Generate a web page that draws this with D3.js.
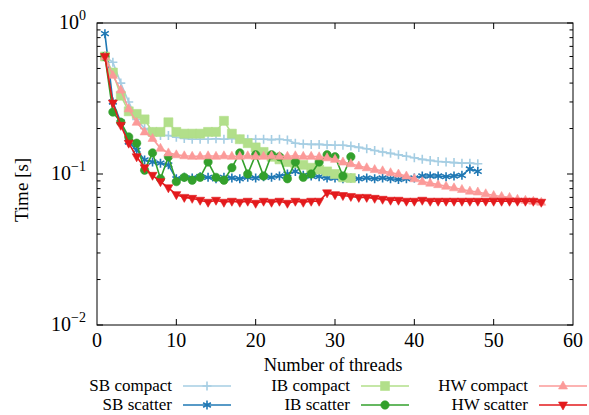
<!DOCTYPE html>
<html>
<head>
<meta charset="utf-8">
<script src="https://cdn.jsdelivr.net/npm/d3@7"></script>
<style>
  body { margin: 0; background: #fff; }
  svg text { font-family: "Liberation Serif", "Times New Roman", serif; fill: #000; }
</style>
</head>
<body>
<svg id="chart" width="589" height="415"></svg>
<script>
// measured times (s) per thread count, starting at 1 thread
const sbCompact = [0.6, 0.55, 0.4, 0.3, 0.23, 0.2, 0.19, 0.18, 0.18, 0.175,
  0.172, 0.17, 0.17, 0.17, 0.171, 0.17, 0.172, 0.17, 0.17, 0.17,
  0.17, 0.169, 0.17, 0.168, 0.16, 0.158, 0.157, 0.157, 0.156, 0.155,
  0.155, 0.153, 0.15, 0.147, 0.143, 0.14, 0.137, 0.134, 0.131, 0.128,
  0.125, 0.123, 0.121, 0.12, 0.119, 0.118, 0.118, 0.117];
const sbScatter = [0.85, 0.3, 0.22, 0.163, 0.144, 0.124, 0.12, 0.118, 0.115, 0.093,
  0.095, 0.094, 0.096, 0.095, 0.093, 0.095, 0.094, 0.093, 0.095, 0.094,
  0.096, 0.095, 0.097, 0.1, 0.104, 0.098, 0.097, 0.096, 0.094, 0.094,
  0.093, 0.094, 0.093, 0.094, 0.093, 0.094, 0.093, 0.092, 0.093, 0.094,
  0.097, 0.097, 0.097, 0.096, 0.097, 0.098, 0.108, 0.104];
const ibCompact = [0.6, 0.47, 0.33, 0.26, 0.25, 0.23, 0.19, 0.19, 0.22, 0.19,
  0.185, 0.185, 0.185, 0.19, 0.19, 0.225, 0.185, 0.17, 0.16, 0.15,
  0.14, 0.13, 0.125, 0.12, 0.118, 0.115, 0.11, 0.107, 0.104, 0.1,
  0.095, 0.094];
const ibScatter = [0.6, 0.257, 0.22, 0.176, 0.16, 0.106, 0.138, 0.093, 0.13, 0.089,
  0.095, 0.091, 0.095, 0.12, 0.095, 0.091, 0.11, 0.138, 0.1, 0.134,
  0.097, 0.134, 0.13, 0.093, 0.12, 0.095, 0.1, 0.12, 0.134, 0.13,
  0.097, 0.13];
const hwCompact = [0.6, 0.45, 0.36, 0.27, 0.22, 0.19, 0.172, 0.148, 0.138, 0.134,
  0.132, 0.131, 0.131, 0.132, 0.131, 0.132, 0.131, 0.131, 0.132, 0.131,
  0.131, 0.132, 0.131, 0.131, 0.132, 0.131, 0.131, 0.13, 0.128, 0.125,
  0.12, 0.117, 0.113, 0.11, 0.107, 0.105, 0.102, 0.1, 0.097, 0.093,
  0.089, 0.087, 0.085, 0.083, 0.081, 0.079, 0.077, 0.076, 0.074, 0.072,
  0.071, 0.07, 0.068, 0.067, 0.066, 0.065];
const hwScatter = [0.6, 0.295, 0.21, 0.16, 0.13, 0.11, 0.098, 0.089, 0.081, 0.073,
  0.07, 0.069, 0.067, 0.065, 0.067, 0.065, 0.066, 0.065, 0.066, 0.064,
  0.066, 0.065, 0.066, 0.064, 0.066, 0.065, 0.066, 0.066, 0.075, 0.073,
  0.072, 0.071, 0.07, 0.07, 0.069, 0.068, 0.067, 0.067, 0.066, 0.066,
  0.067, 0.066, 0.066, 0.066, 0.066, 0.066, 0.066, 0.066, 0.066, 0.066,
  0.066, 0.066, 0.066, 0.066, 0.066, 0.065];

const seriesNames = ["SB compact", "SB scatter", "IB compact", "IB scatter", "HW compact", "HW scatter"];
const seriesValues = [sbCompact, sbScatter, ibCompact, ibScatter, hwCompact, hwScatter];
const seriesColors = ["#a6cee3", "#1f78b4", "#b2df8a", "#33a02c", "#fb9a99", "#e31a1c"];
const seriesMarks = ["plus", "asterisk", "square", "circle", "triUp", "triDown"];

const xTicks = [0, 10, 20, 30, 40, 50, 60];
const yTicks = [1e-2, 1e-1, 1];
const yTickExp = ["−2", "−1", "0"];

const margin = {top: 23, right: 16, bottom: 90, left: 97};
const width = 589 - margin.left - margin.right;
const height = 415 - margin.top - margin.bottom;

const svg = d3.select("#chart");

let x = d3.scaleLinear().domain([0, 60]).range([margin.left, margin.left + width]);
let y = d3.scaleLog().domain([1e-2, 1]).range([margin.top + height, margin.top]);

//marker shapes, drawn around 0,0
function markPath(kind) {
    const p = d3.path();
    if (kind == "plus") {
        p.moveTo(-4.5, 0); p.lineTo(4.5, 0);
        p.moveTo(0, -4.5); p.lineTo(0, 4.5);
    } else if (kind == "asterisk") {
        [90, 30, 150].forEach(a => {
            const r = a * Math.PI / 180;
            p.moveTo(-4.5 * Math.cos(r), -4.5 * Math.sin(r));
            p.lineTo(4.5 * Math.cos(r), 4.5 * Math.sin(r));
        });
    } else if (kind == "square") {
        p.rect(-4.5, -4.5, 9, 9);
    } else if (kind == "circle") {
        p.arc(0, 0, 4.2, 0, 2 * Math.PI);
    } else if (kind == "triUp") {
        p.moveTo(0, -5); p.lineTo(4.5, 3); p.lineTo(-4.5, 3); p.closePath();
    } else if (kind == "triDown") {
        p.moveTo(0, 5); p.lineTo(4.5, -3); p.lineTo(-4.5, -3); p.closePath();
    }
    return p.toString();
}

function drawMark(g, kind, color) {
    const filled = !(kind == "plus" || kind == "asterisk");
    g.append("path")
        .attr("d", markPath(kind))
        .attr("fill", filled ? color : "none")
        .attr("stroke", color)
        .attr("stroke-width", filled ? 0.6 : 1.6);
}

const plot = svg.append("g");
plot.append("clipPath").attr("id", "clip")
    .append("rect").attr("x", margin.left).attr("y", margin.top).attr("width", width).attr("height", height);

const line = d3.line()
    .x((d, i) => x(i + 1))
    .y(d => y(d));

seriesValues.forEach((vals, k) => {
    const g = plot.append("g").attr("clip-path", "url(#clip)");
    g.append("path")
        .attr("d", line(vals))
        .attr("fill", "none")
        .attr("stroke", seriesColors[k])
        .attr("stroke-width", 1.6);
    vals.forEach((v, i) => {
        const m = g.append("g").attr("transform", `translate(${x(i + 1)},${y(v)})`);
        drawMark(m, seriesMarks[k], seriesColors[k]);
    });
});

//axes: ticks pointing inward on all four sides
const axes = svg.append("g");
axes.append("rect")
    .attr("x", margin.left).attr("y", margin.top)
    .attr("width", width).attr("height", height)
    .attr("fill", "none").attr("stroke", "#000").attr("stroke-width", 1);

const xInner = xTicks.filter(t => t > 0 && t < 60);
xInner.forEach(t => {
    axes.append("line").attr("x1", x(t)).attr("x2", x(t))
        .attr("y1", margin.top + height).attr("y2", margin.top + height - 6)
        .attr("stroke", "#000");
    axes.append("line").attr("x1", x(t)).attr("x2", x(t))
        .attr("y1", margin.top).attr("y2", margin.top + 6)
        .attr("stroke", "#000");
});
axes.selectAll(".xlab").data(xTicks).join("text")
    .attr("class", "xlab")
    .attr("x", d => x(d))
    .attr("y", margin.top + height + 22)
    .attr("text-anchor", "middle")
    .attr("font-size", 20)
    .text(d => d);

const minor = [];
[0.01, 0.1].forEach(b => { for (let m = 2; m <= 9; m++) minor.push(b * m); });
minor.forEach(t => {
    [[margin.left, 3.5], [margin.left + width, -3.5]].forEach(([x0, dx]) => {
        axes.append("line").attr("x1", x0).attr("x2", x0 + dx)
            .attr("y1", y(t)).attr("y2", y(t)).attr("stroke", "#000");
    });
});
yTicks.forEach((t, i) => {
    [[margin.left, 6], [margin.left + width, -6]].forEach(([x0, dx]) => {
        axes.append("line").attr("x1", x0).attr("x2", x0 + dx)
            .attr("y1", y(t)).attr("y2", y(t)).attr("stroke", "#000");
    });
    const lab = axes.append("text")
        .attr("x", margin.left - 11)
        .attr("y", y(t) + 6)
        .attr("text-anchor", "end")
        .attr("font-size", 20);
    lab.append("tspan").text("10");
    lab.append("tspan").attr("dy", -9).attr("font-size", 14).text(yTickExp[i]);
});

svg.append("text")
    .attr("transform", `translate(28,190) rotate(-90)`)
    .attr("text-anchor", "middle")
    .attr("font-size", 19)
    .text("Time [s]");

svg.append("text")
    .attr("x", 333).attr("y", 371)
    .attr("text-anchor", "middle")
    .attr("font-size", 18.5)
    .text("Number of threads");

//legend: three columns, two rows
const legCols = [172, 350, 528];
const legRows = [386, 405];
const legend = svg.append("g");
seriesNames.forEach((name, k) => {
    const cx = legCols[Math.floor(k / 2)];
    const cy = legRows[k % 2];
    legend.append("text")
        .attr("x", cx).attr("y", cy + 5)
        .attr("text-anchor", "end")
        .attr("font-size", 17)
        .text(name);
    legend.append("line")
        .attr("x1", cx + 11).attr("x2", cx + 59)
        .attr("y1", cy).attr("y2", cy)
        .attr("stroke", seriesColors[k]).attr("stroke-width", 1.6);
    const m = legend.append("g").attr("transform", `translate(${cx + 35},${cy})`);
    drawMark(m, seriesMarks[k], seriesColors[k]);
});
</script>
</body>
</html>
